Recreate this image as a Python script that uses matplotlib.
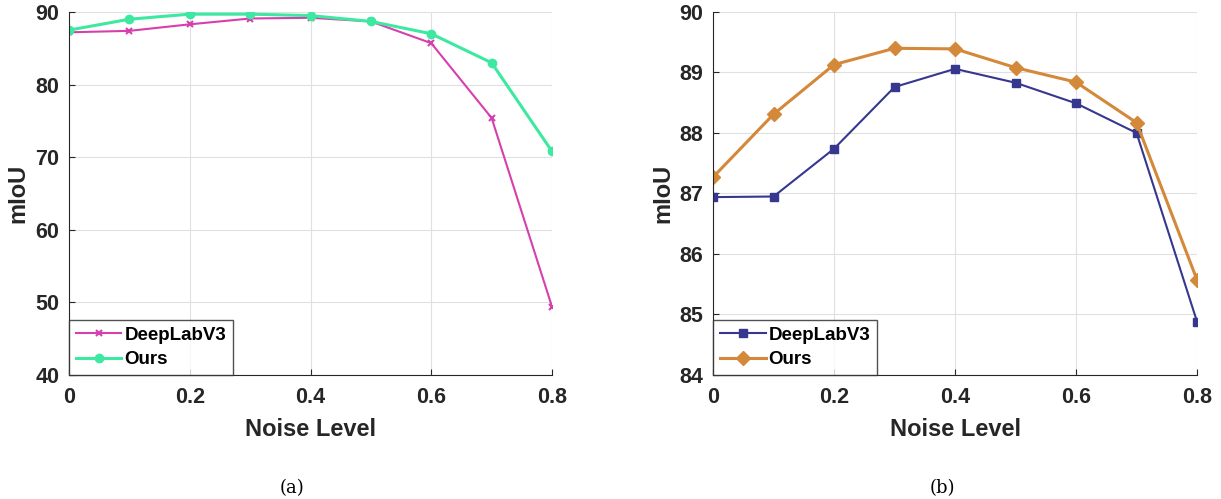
import matplotlib
matplotlib.use('Agg')
import matplotlib.pyplot as plt

noise = [0, 0.1, 0.2, 0.3, 0.4, 0.5, 0.6, 0.7, 0.8]

# panel (a)
deeplab_a = [87.2, 87.4, 88.3, 89.1, 89.2, 88.7, 85.7, 75.4, 49.4]
ours_a = [87.5, 89.0, 89.7, 89.7, 89.5, 88.7, 87.0, 83.0, 70.8]

# panel (b)
deeplab_b = [86.94, 86.95, 87.74, 88.76, 89.06, 88.83, 88.49, 88.00, 84.88]
ours_b = [87.27, 88.31, 89.13, 89.40, 89.39, 89.08, 88.84, 88.17, 85.57]

xticks = [0, 0.2, 0.4, 0.6, 0.8]
xticklabels = ['0', '0.2', '0.4', '0.6', '0.8']

plt.rcParams['font.family'] = ['Liberation Sans', 'DejaVu Sans']
plt.rcParams['font.weight'] = 'bold'

fig = plt.figure(figsize=(12.21, 4.99), dpi=100)
ax1 = fig.add_axes([0.0565, 0.2485, 0.3956, 0.7275])
ax2 = fig.add_axes([0.584, 0.2485, 0.3964, 0.7275])


def style(ax, ylim, yticks):
    ax.set_xlim(0, 0.8)
    ax.set_ylim(*ylim)
    ax.set_xticks(xticks)
    ax.set_xticklabels(xticklabels)
    ax.set_yticks(yticks)
    ax.tick_params(direction='in', length=4, width=0.8, labelsize=15.5, colors='#262626')
    ax.tick_params(axis='x', pad=9)
    ax.tick_params(axis='y', pad=7)
    for lab in ax.get_xticklabels() + ax.get_yticklabels():
        lab.set_fontweight('bold')
    ax.grid(True, color='#e0e0e0', linewidth=0.8)
    ax.set_axisbelow(True)
    ax.spines['top'].set_visible(False)
    ax.spines['right'].set_visible(False)
    ax.spines['left'].set_color('#262626')
    ax.spines['bottom'].set_color('#262626')
    ax.set_xlabel('Noise Level', fontsize=17, fontweight='bold', labelpad=7, color='#262626')
    ax.set_ylabel('mIoU', fontsize=17, fontweight='bold', labelpad=4, color='#262626')
    leg = ax.legend(loc='lower left', fontsize=13.5, frameon=True, fancybox=False,
                    borderpad=0.35, handlelength=2.45, handletextpad=0.15,
                    labelspacing=0.4, borderaxespad=0)
    leg.get_frame().set_edgecolor('#262626')
    leg.get_frame().set_linewidth(1.0)
    for t in leg.get_texts():
        t.set_fontweight('bold')


ax1.plot(noise, deeplab_a, color='#d63fac', marker='x', markersize=5,
         markeredgewidth=1.5, linewidth=1.5, label='DeepLabV3')
ax1.plot(noise, ours_a, color='#3de8a0', marker='o', markersize=6,
         linewidth=2.2, label='Ours')
style(ax1, (40, 90), [40, 50, 60, 70, 80, 90])

ax2.plot(noise, deeplab_b, color='#36378f', marker='s', markersize=6,
         linewidth=1.5, label='DeepLabV3')
ax2.plot(noise, ours_b, color='#d4883a', marker='D', markersize=7,
         linewidth=2.2, label='Ours')
style(ax2, (84, 90), [84, 85, 86, 87, 88, 89, 90])

fig.text(0.2395, 0.012, '(a)', fontsize=13, family='DejaVu Serif',
         fontweight='normal', ha='center')
fig.text(0.772, 0.012, '(b)', fontsize=13, family='DejaVu Serif',
         fontweight='normal', ha='center')

fig.savefig('out.png', dpi=100)
